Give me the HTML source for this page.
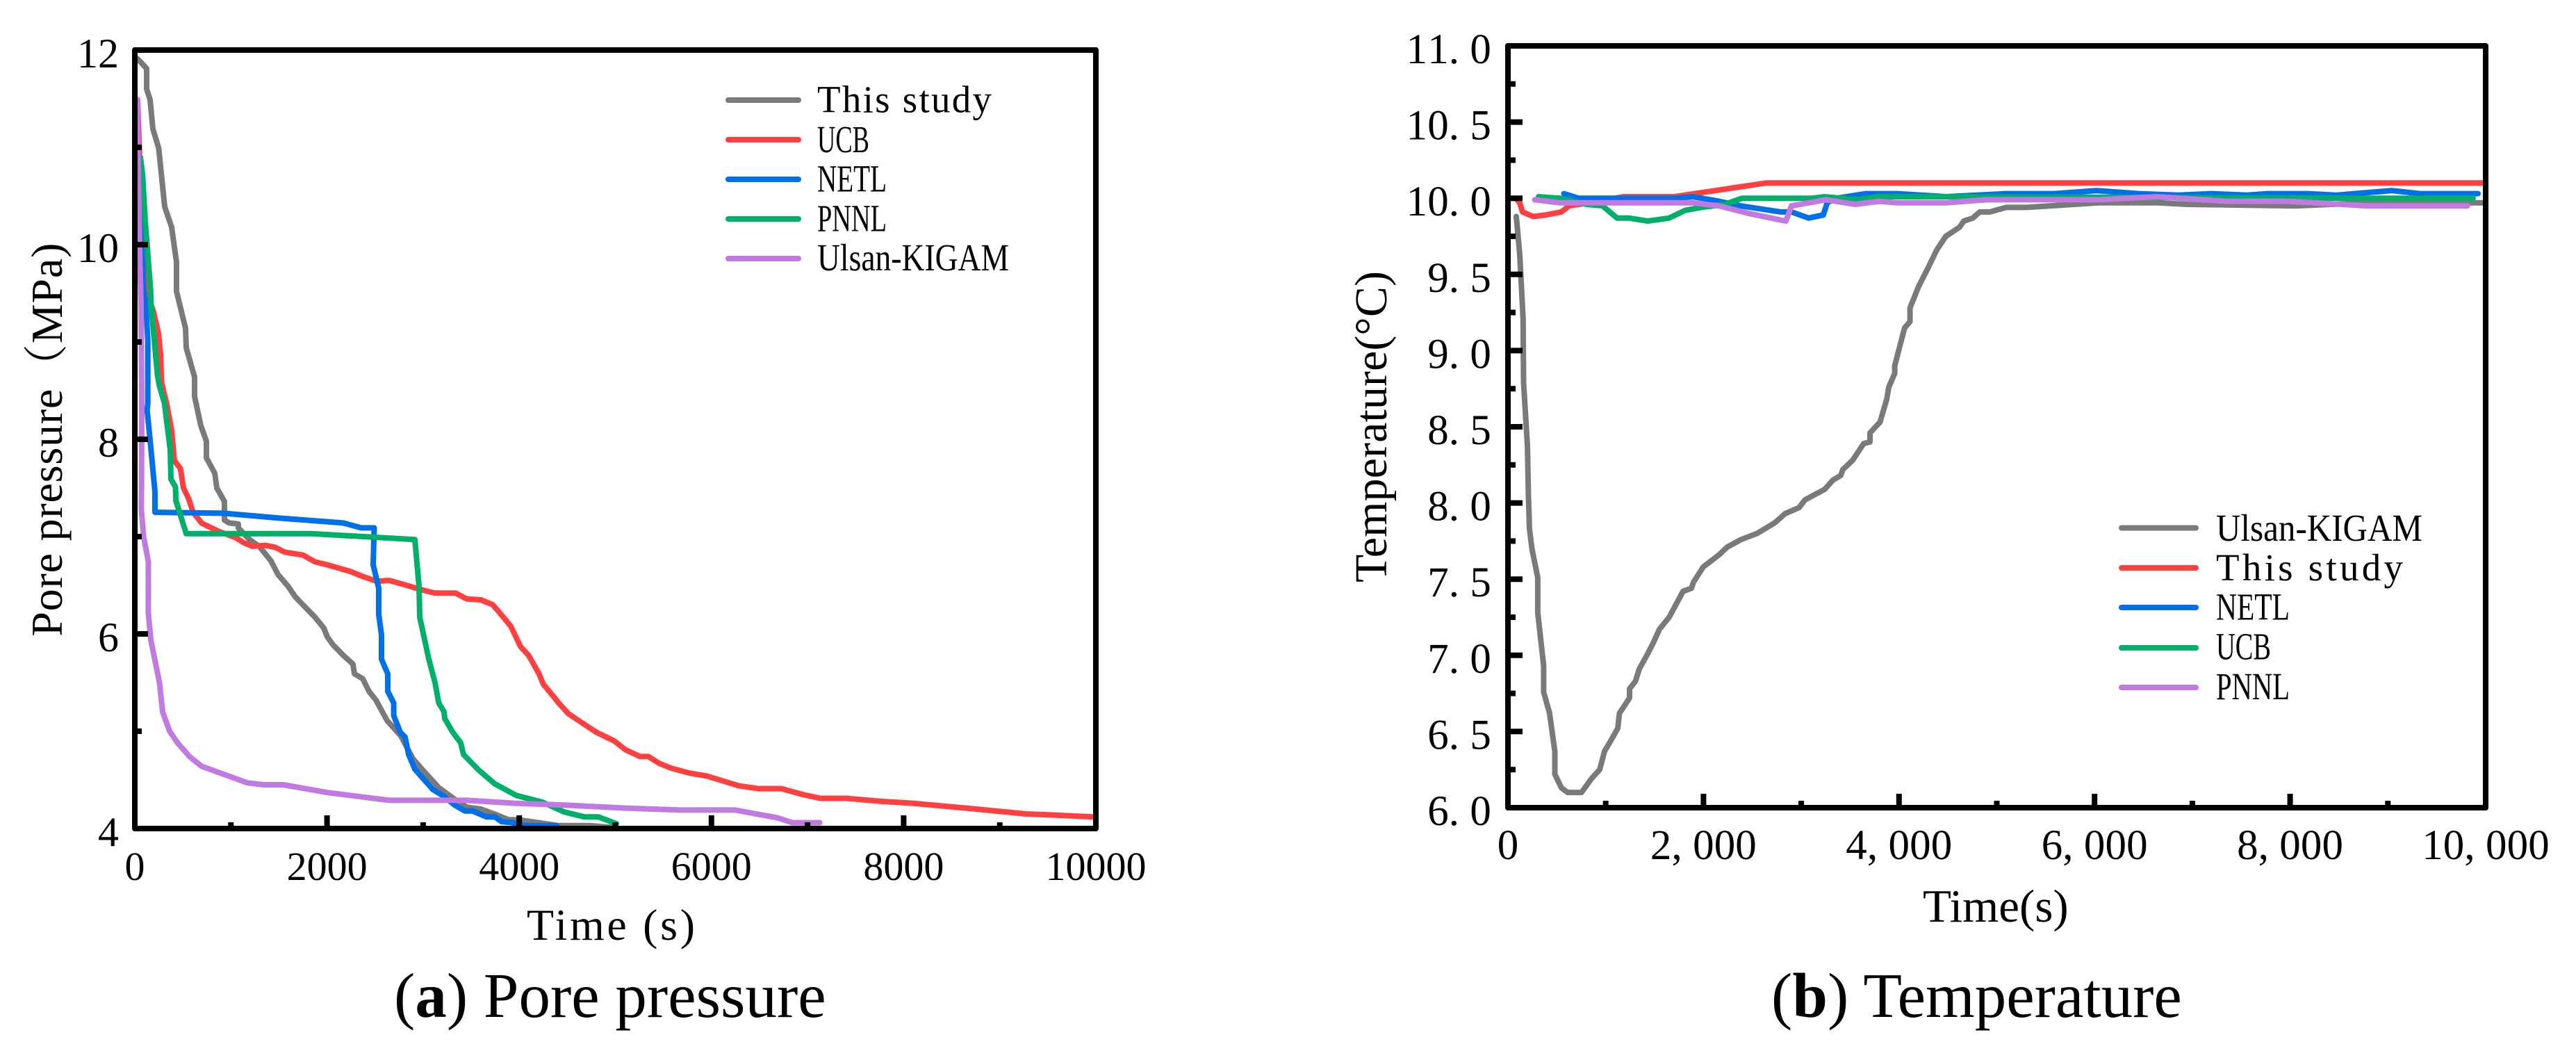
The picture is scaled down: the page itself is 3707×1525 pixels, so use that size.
<!DOCTYPE html>
<html lang="en">
<head>
<meta charset="utf-8">
<title>Pore pressure and temperature comparison</title>
<style>
html,body{margin:0;padding:0;background:#fff;}
svg{display:block;}
text{font-family:"Liberation Serif","Noto Serif CJK SC",serif;fill:#000;}
</style>
</head>
<body>
<svg id="figure" xmlns="http://www.w3.org/2000/svg" width="3707" height="1525" viewBox="0 0 3707 1525">
  <rect x="0" y="0" width="3707" height="1525" fill="#ffffff"/>

  <g id="pressure-chart">
    <g id="pressure-series"></g>
    <g id="pressure-axes"></g>
    <text x="758" y="1352" font-size="64" textLength="242" lengthAdjust="spacing">Time (s)</text>
    <text transform="translate(89,915.6) rotate(-90)" font-size="64" textLength="566" lengthAdjust="spacing">Pore pressure（MPa)</text>
    <g>
      <g>
        <line x1="1048" y1="144" x2="1149" y2="144" stroke="#7a7a7a" stroke-width="8" stroke-linecap="round"/>
        <text x="1176" y="161.5" font-size="55" textLength="251" lengthAdjust="spacing">This study</text>
      </g>
      <g>
        <line x1="1048" y1="201" x2="1149" y2="201" stroke="#ff4040" stroke-width="8" stroke-linecap="round"/>
        <text x="1176" y="219" font-size="55" textLength="75" lengthAdjust="spacingAndGlyphs">UCB</text>
      </g>
      <g>
        <line x1="1048" y1="258" x2="1149" y2="258" stroke="#0070e8" stroke-width="8" stroke-linecap="round"/>
        <text x="1176" y="275.5" font-size="55" textLength="100" lengthAdjust="spacingAndGlyphs">NETL</text>
      </g>
      <g>
        <line x1="1048" y1="315" x2="1149" y2="315" stroke="#00b06a" stroke-width="8" stroke-linecap="round"/>
        <text x="1176" y="332.5" font-size="55" textLength="100" lengthAdjust="spacingAndGlyphs">PNNL</text>
      </g>
      <g>
        <line x1="1048" y1="372" x2="1149" y2="372" stroke="#c07ae0" stroke-width="8" stroke-linecap="round"/>
        <text x="1176" y="389" font-size="55" textLength="276" lengthAdjust="spacingAndGlyphs">Ulsan-KIGAM</text>
      </g>
    </g>
    <text x="567" y="1463" font-size="91">(<tspan font-weight="bold">a</tspan>) Pore pressure</text>
  </g>

  <g id="temperature-chart">
    <g id="temperature-series"></g>
    <g id="temperature-axes"></g>
    <text x="2767" y="1326" font-size="67">Time(s)</text>
    <text transform="translate(1995,838) rotate(-90)" font-size="66" textLength="448" lengthAdjust="spacing">Temperature(°C)</text>
    <g>
      <g>
        <line x1="3053" y1="759.5" x2="3160" y2="759.5" stroke="#7a7a7a" stroke-width="8" stroke-linecap="round"/>
        <text x="3189" y="778" font-size="55" textLength="297" lengthAdjust="spacingAndGlyphs">Ulsan-KIGAM</text>
      </g>
      <g>
        <line x1="3053" y1="817" x2="3160" y2="817" stroke="#ff4040" stroke-width="8" stroke-linecap="round"/>
        <text x="3189" y="835" font-size="55" textLength="269" lengthAdjust="spacing">This study</text>
      </g>
      <g>
        <line x1="3053" y1="874" x2="3160" y2="874" stroke="#0070e8" stroke-width="8" stroke-linecap="round"/>
        <text x="3189" y="891.5" font-size="55" textLength="106" lengthAdjust="spacingAndGlyphs">NETL</text>
      </g>
      <g>
        <line x1="3053" y1="932" x2="3160" y2="932" stroke="#00b06a" stroke-width="8" stroke-linecap="round"/>
        <text x="3189" y="948.5" font-size="55" textLength="79" lengthAdjust="spacingAndGlyphs">UCB</text>
      </g>
      <g>
        <line x1="3053" y1="989" x2="3160" y2="989" stroke="#c07ae0" stroke-width="8" stroke-linecap="round"/>
        <text x="3189" y="1006" font-size="55" textLength="106" lengthAdjust="spacingAndGlyphs">PNNL</text>
      </g>
    </g>
    <text x="2549" y="1463" font-size="91">(<tspan font-weight="bold">b</tspan>) Temperature</text>
  </g>
</svg>

<script>
// ---- Panel (a): pore pressure ----
const pressureXMajorTicks = [2000, 4000, 6000, 8000];
const pressureXMinorTicks = [1000, 3000, 5000, 7000, 9000];
const pressureXTickLabels = [0, 2000, 4000, 6000, 8000, 10000];
const pressureYMajorTicks = [6, 8, 10];
const pressureYMinorTicks = [5, 7, 9, 11];
const pressureYTickLabels = [4, 6, 8, 10, 12];

const thisStudyPressureTime = [29,123,123,159,188,249,311,383,434,434,528,535,622,622,687,745,745,832,853,933,933,983,1077,1077,1193,1294,1417,1490,1594,1670,1876,1967,2003,2061,2169,2270,2285,2372,2437,2509,2625,2769,2892,2997,3163,3330,3453,3601,3767,3890,3991,4411,4743,4989];
const thisStudyPressure = [11.91,11.81,11.6,11.49,11.19,10.99,10.39,10.18,9.82,9.52,9.14,8.94,8.64,8.44,8.14,7.98,7.81,7.65,7.5,7.36,7.17,7.14,7.13,7.09,6.97,6.9,6.75,6.61,6.49,6.38,6.17,6.06,5.97,5.89,5.78,5.69,5.59,5.54,5.41,5.32,5.11,4.95,4.72,4.6,4.42,4.3,4.22,4.2,4.14,4.09,4.09,4.03,4.03,4.01];
const ucbPressureTime = [29,58,101,130,195,246,268,279,333,383,412,474,506,560,607,694,774,882,1048,1128,1222,1359,1461,1562,1750,1876,2003,2249,2372,2520,2646,2791,2957,3124,3338,3453,3601,3724,3786,3912,4013,4097,4201,4252,4346,4411,4512,4678,4801,4989,5105,5257,5344,5456,5582,5770,5951,6283,6486,6728,6949,7134,7412,7758,8091,8648,9273,9530,9975];
const ucbPressure = [11.49,10.69,9.96,9.49,9.31,9.09,8.87,8.58,8.36,8.09,7.78,7.7,7.5,7.39,7.25,7.14,7.1,7.05,6.99,6.94,6.9,6.91,6.89,6.84,6.81,6.74,6.71,6.64,6.59,6.54,6.55,6.51,6.46,6.42,6.42,6.36,6.35,6.3,6.23,6.08,5.87,5.78,5.6,5.48,5.37,5.29,5.18,5.07,4.99,4.9,4.81,4.74,4.74,4.67,4.62,4.57,4.54,4.44,4.41,4.41,4.35,4.31,4.31,4.28,4.26,4.21,4.15,4.14,4.12];
const netlPressureTime = [58,65,92,116,135,135,128,164,210,210,922,1504,2169,2354,2491,2480,2538,2538,2567,2567,2632,2632,2694,2694,2762,2813,2849,2914,3102,3203,3330,3435,3514,3659,3745,3818,3933,3991,4389];
const netlPressure = [10.59,10.25,9.54,9.37,9.01,8.37,8.3,7.94,7.46,7.25,7.24,7.19,7.14,7.09,7.09,6.71,6.47,6.2,5.99,5.74,5.59,5.41,5.29,5.16,4.99,4.94,4.76,4.61,4.4,4.34,4.24,4.18,4.18,4.12,4.12,4.07,4.06,4.03,4.03];
const pnnlPressureTime = [58,80,108,164,170,236,253,309,369,376,424,427,535,1837,2914,2957,2965,3059,3124,3163,3218,3225,3308,3391,3420,3579,3745,3970,4244,4469,4678,4823,5011];
const pnnlPressure = [10.9,10.73,10.25,9.54,9.37,8.66,8.56,8.37,7.89,7.59,7.51,7.37,7.03,7.03,6.97,6.49,6.17,5.74,5.5,5.29,5.2,5.13,4.99,4.88,4.76,4.6,4.46,4.34,4.27,4.17,4.12,4.12,4.05];
const ulsanPressureTime = [29,36,51,65,72,70,68,92,141,140,166,257,289,362,445,569,694,1171,1338,1544,2003,2646,3453,3951,4490,5105,5676,6247,6688,6840,7127];
const ulsanPressure = [11.49,10.69,9.9,9.37,8.37,7.6,7.28,7.0,6.74,6.22,5.94,5.5,5.2,5.0,4.88,4.74,4.64,4.47,4.45,4.45,4.37,4.29,4.29,4.26,4.24,4.21,4.19,4.19,4.11,4.06,4.06];

// ---- Panel (b): temperature ----
const temperatureXMajorTicks = [2000, 4000, 6000, 8000];
const temperatureXMinorTicks = [1000, 3000, 5000, 7000, 9000];
const temperatureXTickLabels = ["0", "2,000", "4,000", "6,000", "8,000", "10,000"];
const temperatureYMajorTicks = [6.5, 7, 7.5, 8, 8.5, 9, 9.5, 10, 10.5];
const temperatureYMinorTicks = [6.25, 6.75, 7.25, 7.75, 8.25, 8.75, 9.25, 9.75, 10.25, 10.75];
const temperatureYTickLabels = ["6.0", "6.5", "7.0", "7.5", "8.0", "8.5", "9.0", "9.5", "10.0", "10.5", "11.0"];

const ulsanTemperatureTime = [85,121,155,160,200,210,220,245,305,305,365,365,426,480,480,547,611,753,853,938,988,1052,1123,1141,1244,1244,1304,1343,1429,1485,1549,1649,1791,1876,1898,1997,2160,2242,2385,2549,2729,2836,2978,3038,3241,3324,3404,3426,3525,3639,3703,3703,3805,3874,3895,3956,3956,4037,4058,4112,4112,4200,4303,4385,4478,4620,4662,4755,4826,4930,5096,5300,6041,6656,6944,8053,8792,9986];
const ulsanTemperature = [9.88,9.63,9.21,8.79,8.37,8.04,7.83,7.7,7.51,7.28,6.93,6.76,6.62,6.37,6.22,6.13,6.1,6.1,6.19,6.25,6.37,6.44,6.52,6.62,6.72,6.78,6.83,6.91,7.01,7.08,7.17,7.25,7.42,7.44,7.48,7.58,7.66,7.71,7.76,7.8,7.87,7.93,7.97,8.02,8.09,8.15,8.18,8.22,8.28,8.39,8.4,8.46,8.53,8.68,8.76,8.85,8.9,9.1,9.15,9.19,9.28,9.42,9.55,9.66,9.75,9.81,9.85,9.87,9.91,9.91,9.94,9.94,9.97,9.97,9.96,9.95,9.97,9.97];
const thisStudyTemperatureTime = [78,121,149,259,384,547,625,722,1185,1699,2637,9972];
const thisStudyTemperature = [10,9.97,9.91,9.88,9.89,9.91,9.95,9.96,10.01,10.01,10.1,10.1];
const netlTemperatureTime = [572,722,1727,1891,2161,2381,2790,2900,3075,3225,3265,3362,3660,3980,4478,5096,5586,6020,6453,6859,7193,7562,7768,8177,8465,9041,9328,9922];
const netlTemperature = [10.03,10,10,10.01,9.98,9.95,9.91,9.91,9.87,9.89,9.97,10,10.03,10.03,10.01,10.03,10.03,10.05,10.03,10.02,10.03,10.02,10.03,10.03,10.02,10.05,10.03,10.03];
const ucbTemperatureTime = [313,533,803,967,1116,1237,1429,1649,1812,1976,2217,2395,3113,3238,3564,3795,3980,4478,8792,9872];
const ucbTemperature = [10.01,10,9.96,9.95,9.87,9.87,9.85,9.87,9.92,9.94,9.96,10,10,10.01,9.99,10.01,10.01,10.01,10,10];
const pnnlTemperatureTime = [274,533,1891,2161,2463,2843,2900,3252,3551,3795,3980,4478,4890,6041,6636,7356,7974,8792,9813];
const pnnlTemperature = [9.99,9.97,9.97,9.95,9.9,9.85,9.95,9.99,9.96,9.98,9.97,9.97,9.99,9.99,10.01,9.98,9.98,9.95,9.95];

// ---- Axis functions ----
function pressureX(t) { return 194 + (t - 0) * (1577 - 194) / 10000; }
function pressureY(p) { return 1192 - (p - 4) * (1192 - 72) / 8; }
function temperatureX(t) { return 2170 + (t - 0) * (3577 - 2170) / 10000; }
function temperatureY(v) { return 1162 - (v - 6) * (1162 - 66) / 5; }

const NS = 'http://www.w3.org/2000/svg';
function make(tag, parent) {
  const el = document.createElementNS(NS, tag);
  parent.appendChild(el);
  return el;
}
function pointsOf(xs, ys, fx, fy) {
  return xs.map(function (x, i) { return fx(x).toFixed(1) + ',' + fy(ys[i]).toFixed(1); }).join(' ');
}
function drawLine(parent, xs, ys, fx, fy, color, width, name) {
  const line = make('polyline', parent);
  
  
  line.setAttribute('points', pointsOf(xs, ys, fx, fy));
  line.setAttribute('fill', 'none');
  line.setAttribute('stroke', color);
  line.setAttribute('stroke-width', width);
  line.setAttribute('stroke-linejoin', 'round');
  line.setAttribute('stroke-linecap', 'round');
}
function drawFrame(parent, x0, y0, x1, y1) {
  const frame = make('rect', parent);
  
  
  frame.setAttribute('x', x0);
  frame.setAttribute('y', y0);
  frame.setAttribute('width', x1 - x0);
  frame.setAttribute('height', y1 - y0);
  frame.setAttribute('fill', 'none');
  frame.setAttribute('stroke', '#000');
  frame.setAttribute('stroke-width', 8);
  frame.setAttribute('stroke-linejoin', 'round');
}
function drawTick(parent, x1, y1, x2, y2) {
  const tick = make('line', parent);
  
  
  tick.setAttribute('x1', x1);
  tick.setAttribute('y1', y1);
  tick.setAttribute('x2', x2);
  tick.setAttribute('y2', y2);
  tick.setAttribute('stroke', '#000');
  tick.setAttribute('stroke-width', 8);
}

// ---- Panel (a) drawing ----
const pressureSeriesGroup = document.getElementById('pressure-series');
drawLine(pressureSeriesGroup, thisStudyPressureTime, thisStudyPressure, pressureX, pressureY, '#7a7a7a', 8, 'this-study-pressure-line');
drawLine(pressureSeriesGroup, ucbPressureTime, ucbPressure, pressureX, pressureY, '#ff4040', 8, 'ucb-pressure-line');
drawLine(pressureSeriesGroup, netlPressureTime, netlPressure, pressureX, pressureY, '#0070e8', 8, 'netl-pressure-line');
drawLine(pressureSeriesGroup, pnnlPressureTime, pnnlPressure, pressureX, pressureY, '#00b06a', 8, 'pnnl-pressure-line');
drawLine(pressureSeriesGroup, ulsanPressureTime, ulsanPressure, pressureX, pressureY, '#c07ae0', 8, 'ulsan-kigam-pressure-line');

const pressureAxes = document.getElementById('pressure-axes');
drawFrame(pressureAxes, pressureX(0), pressureY(12), pressureX(10000), pressureY(4));
pressureXMajorTicks.forEach(function (t) { drawTick(pressureAxes, pressureX(t), pressureY(4), pressureX(t), pressureY(4) - 19); });
pressureXMinorTicks.forEach(function (t) { drawTick(pressureAxes, pressureX(t), pressureY(4), pressureX(t), pressureY(4) - 9); });
pressureYMajorTicks.forEach(function (p) { drawTick(pressureAxes, pressureX(0), pressureY(p), pressureX(0) + 19, pressureY(p)); });
pressureYMinorTicks.forEach(function (p) { drawTick(pressureAxes, pressureX(0), pressureY(p), pressureX(0) + 10, pressureY(p)); });
pressureXTickLabels.forEach(function (t) {
  const label = make('text', pressureAxes);
  
  
  label.setAttribute('x', pressureX(t));
  label.setAttribute('y', 1266);
  label.setAttribute('font-size', 58);
  label.setAttribute('text-anchor', 'middle');
  label.textContent = String(t);
});
pressureYTickLabels.forEach(function (p) {
  const label = make('text', pressureAxes);
  
  
  label.setAttribute('x', 171);
  label.setAttribute('y', pressureY(p) + 25);
  label.setAttribute('font-size', 60);
  label.setAttribute('text-anchor', 'end');
  label.textContent = String(p);
});

// ---- Panel (b) drawing ----
const temperatureSeriesGroup = document.getElementById('temperature-series');
drawLine(temperatureSeriesGroup, ulsanTemperatureTime, ulsanTemperature, temperatureX, temperatureY, '#7a7a7a', 8, 'ulsan-kigam-temperature-line');
drawLine(temperatureSeriesGroup, thisStudyTemperatureTime, thisStudyTemperature, temperatureX, temperatureY, '#ff4040', 8, 'this-study-temperature-line');
drawLine(temperatureSeriesGroup, netlTemperatureTime, netlTemperature, temperatureX, temperatureY, '#0070e8', 8, 'netl-temperature-line');
drawLine(temperatureSeriesGroup, ucbTemperatureTime, ucbTemperature, temperatureX, temperatureY, '#00b06a', 8, 'ucb-temperature-line');
drawLine(temperatureSeriesGroup, pnnlTemperatureTime, pnnlTemperature, temperatureX, temperatureY, '#c07ae0', 8, 'pnnl-temperature-line');

const temperatureAxes = document.getElementById('temperature-axes');
drawFrame(temperatureAxes, temperatureX(0), temperatureY(11), temperatureX(10000), temperatureY(6));
temperatureXMajorTicks.forEach(function (t) { drawTick(temperatureAxes, temperatureX(t), temperatureY(6), temperatureX(t), temperatureY(6) - 20); });
temperatureXMinorTicks.forEach(function (t) { drawTick(temperatureAxes, temperatureX(t), temperatureY(6), temperatureX(t), temperatureY(6) - 10); });
temperatureYMajorTicks.forEach(function (v) { drawTick(temperatureAxes, temperatureX(0), temperatureY(v), temperatureX(0) + 21, temperatureY(v)); });
temperatureYMinorTicks.forEach(function (v) { drawTick(temperatureAxes, temperatureX(0), temperatureY(v), temperatureX(0) + 11, temperatureY(v)); });

// Half-width cells: every character, including , and . takes one 30.6px cell.
function cellPositions(text, start) {
  return text.split('').map(function (c, i) { return (start + i * 30.6).toFixed(1); }).join(' ');
}
temperatureXTickLabels.forEach(function (text) {
  const value = Number(text.replace(',', ''));
  const start = temperatureX(value) - text.length * 30.6 / 2;
  const label = make('text', temperatureAxes);
  
  
  label.setAttribute('x', cellPositions(text, start));
  label.setAttribute('y', 1236);
  label.setAttribute('font-size', 61);
  label.textContent = text;
});
temperatureYTickLabels.forEach(function (text) {
  const value = Number(text);
  const label = make('text', temperatureAxes);
  
  
  label.setAttribute('x', cellPositions(text, 2146 - text.length * 30.6));
  label.setAttribute('y', temperatureY(value) + 25);
  label.setAttribute('font-size', 61);
  label.textContent = text;
});
</script>
</body>
</html>
